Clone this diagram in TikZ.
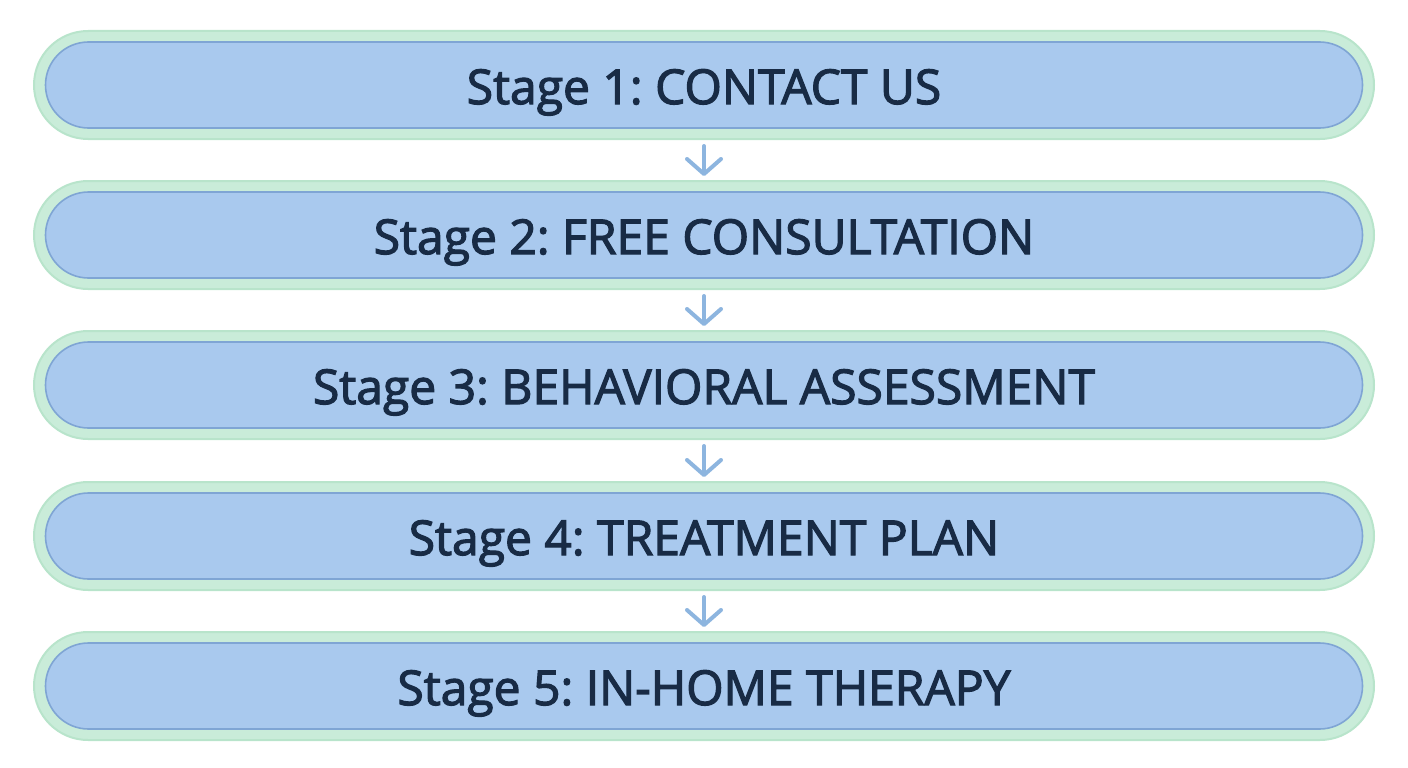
\documentclass[tikz,border=0pt]{standalone}
\usepackage{fontspec}
\setmainfont{Open Sans}
\newfontfamily\lab{Open Sans}[FakeBold=2.5]
\usetikzlibrary{arrows.meta}
\definecolor{outerfill}{HTML}{C9ECD9}
\definecolor{outerdraw}{HTML}{B8E4CB}
\definecolor{innerfill}{HTML}{A9C9EE}
\definecolor{innerdraw}{HTML}{7FA5D4}
\definecolor{arrowcol}{HTML}{8DB5DF}
\definecolor{textcol}{HTML}{182B45}
\frenchspacing
\tikzset{
  outerpill/.style={draw=outerdraw, line width=2pt, fill=outerfill, rounded corners=54pt,
    minimum width=1340pt, minimum height=108pt, inner sep=0pt},
  innerpill/.style={draw=innerdraw, line width=1.6pt, fill=innerfill, rounded corners=43pt,
    minimum width=1317pt, minimum height=86pt, inner sep=0pt,
    text height=38pt, text depth=0pt,
    font=\lab\fontsize{48pt}{52pt}\selectfont, text=textcol},
  flowarrow/.style={draw=arrowcol, line width=4pt, line cap=round,
    -{Straight Barb[length=15pt,width=34pt,line width=4pt,round]}}
}
\begin{document}
\begin{tikzpicture}[x=1pt,y=-1pt]
\useasboundingbox (0,0) rectangle (1408,768);
\foreach \i/\y/\t in {1/85/{Stage 1: CONTACT US},2/235/{Stage 2: FREE CONSULTATION},3/385/{Stage 3: BEHAVIORAL ASSESSMENT},4/536/{Stage 4: TREATMENT PLAN},5/686/{Stage 5: IN-HOME THERAPY}}{
  \node[outerpill] (o\i) at (704,\y) {};
  \node[innerpill] (s\i) at (704,\y) {\t};
}
\foreach \a/\b in {1/2,2/3,3/4,4/5}{
  \draw[flowarrow, shorten <=6pt, shorten >=4pt] (o\a.south) -- (o\b.north);
}
\end{tikzpicture}
\end{document}
